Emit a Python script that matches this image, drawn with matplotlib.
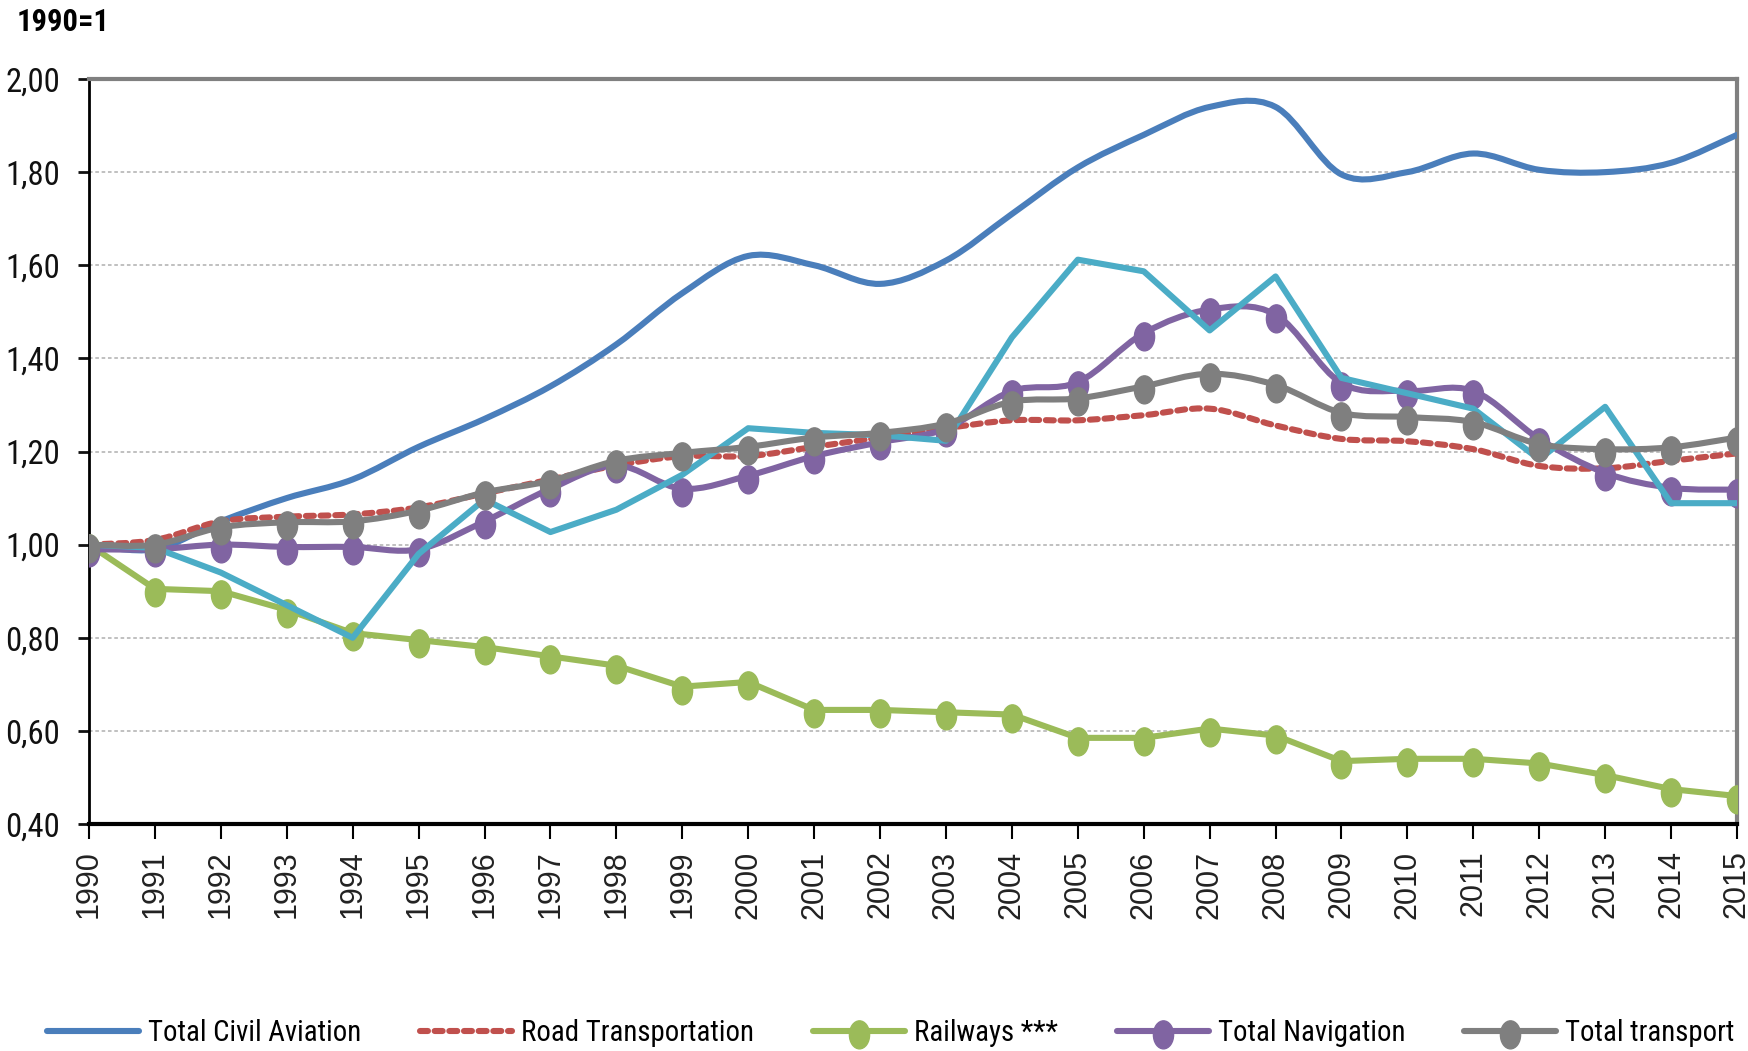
import matplotlib
matplotlib.use("Agg")
import matplotlib.pyplot as plt
import numpy as np
from matplotlib.path import Path
from matplotlib.patches import PathPatch
from matplotlib.lines import Line2D
from matplotlib.transforms import Affine2D
from matplotlib.ticker import FuncFormatter

years = list(range(1990, 2016))
aviation = [1.00, 0.99, 1.05, 1.10, 1.14, 1.21, 1.27, 1.34, 1.43, 1.54, 1.62, 1.60, 1.56, 1.61,
            1.71, 1.81, 1.88, 1.94, 1.94, 1.795, 1.80, 1.84, 1.805, 1.80, 1.82, 1.88]
road = [1.00, 1.01, 1.05, 1.06, 1.065, 1.08, 1.11, 1.14, 1.17, 1.19, 1.19, 1.21, 1.23, 1.25,
        1.267, 1.267, 1.278, 1.292, 1.256, 1.227, 1.222, 1.205, 1.169, 1.164, 1.18, 1.196]
railways = [1.00, 0.905, 0.90, 0.86, 0.81, 0.795, 0.78, 0.76, 0.74, 0.695, 0.705, 0.645, 0.645, 0.64,
            0.635, 0.585, 0.585, 0.605, 0.59, 0.535, 0.54, 0.54, 0.53, 0.505, 0.475, 0.46]
navigation = [0.99, 0.99, 1.00, 0.995, 0.995, 0.99, 1.05, 1.12, 1.17, 1.12, 1.148, 1.19, 1.22, 1.249,
              1.33, 1.349, 1.454, 1.505, 1.494, 1.347, 1.33, 1.33, 1.227, 1.154, 1.122, 1.118]
domestic_nav = [1.00, 0.993, 0.94, 0.87, 0.80, 0.98, 1.097, 1.027, 1.075, 1.15, 1.25, 1.24, 1.235, 1.223,
                1.445, 1.612, 1.587, 1.46, 1.576, 1.358, 1.325, 1.292, 1.183, 1.296, 1.089, 1.089]
total = [1.00, 1.00, 1.037, 1.048, 1.05, 1.073, 1.112, 1.137, 1.18, 1.197, 1.21, 1.23, 1.24, 1.26,
         1.307, 1.314, 1.34, 1.367, 1.343, 1.283, 1.274, 1.263, 1.216, 1.205, 1.209, 1.23]
y_ticks = [0.4, 0.6, 0.8, 1.0, 1.2, 1.4, 1.6, 1.8, 2.0]

narrow = ['Roboto Condensed', 'DejaVu Sans']
regular = ['Liberation Sans', 'DejaVu Sans']


def smooth_path(x, y):
    # Catmull-Rom through the points, as cubic Bezier pieces (Excel-style smoothed line)
    p = np.column_stack([x, y]).astype(float)
    verts = [p[0]]
    codes = [Path.MOVETO]
    n = len(p)
    for i in range(n - 1):
        p0 = p[i - 1] if i > 0 else p[i]
        p3 = p[i + 2] if i + 2 < n else p[i + 1]
        c1 = p[i] + (p[i + 1] - p0) / 6
        c2 = p[i + 1] - (p3 - p[i]) / 6
        verts += [c1, c2, p[i + 1]]
        codes += [Path.CURVE4] * 3
    return Path(verts, codes)


# tall ellipse marker sitting a bit under the point
marker_path = Path.unit_circle().transformed(Affine2D().scale(0.36, 0.5).translate(0, -0.12))

fig = plt.figure(figsize=(17.49, 10.51), dpi=100)
ax = fig.add_axes([89 / 1749, 1 - 824 / 1051, (1737 - 89) / 1749, (824 - 79) / 1051])

lw = 4.4
ms = 25
blue, red, green, purple, cyan, grey = '#4A7EBB', '#C0504D', '#9BBB59', '#8064A2', '#4BACC6', '#7F7F7F'

ax.add_patch(PathPatch(smooth_path(years, aviation), fill=False, ec=blue, lw=lw, capstyle='round', zorder=3))
ax.add_patch(PathPatch(smooth_path(years, road), fill=False, ec=red, lw=lw, ls=(0, (1.3, 1.1)),
                       capstyle='round', zorder=3))
ax.plot(years, railways, color=green, lw=lw, zorder=4)
ax.plot(years, railways, ls='none', marker=marker_path, ms=ms, mfc=green, mec=green, zorder=4)
ax.add_patch(PathPatch(smooth_path(years, navigation), fill=False, ec=purple, lw=lw, zorder=5))
ax.plot(years, navigation, ls='none', marker=marker_path, ms=ms, mfc=purple, mec=purple, zorder=5)
ax.plot(years, domestic_nav, color=cyan, lw=lw, zorder=6)
ax.add_patch(PathPatch(smooth_path(years, total), fill=False, ec=grey, lw=lw, zorder=7))
ax.plot(years, total, ls='none', marker=marker_path, ms=ms, mfc=grey, mec=grey, zorder=7)

ax.set_xlim(1990, 2015)
ax.set_ylim(0.4, 2.0)
ax.set_xticks(years)
ax.set_xticklabels([str(y) for y in years], rotation=90, fontsize=22, family=regular, color='#222222')
ax.set_yticks(y_ticks)
ax.yaxis.set_major_formatter(FuncFormatter(lambda v, _: f"{v:.2f}".replace('.', ',')))
for lab in ax.get_yticklabels():
    lab.set_family(narrow)
ax.tick_params(axis='y', direction='out', length=8, width=2, labelsize=23.5, pad=13, colors='#111111')
ax.tick_params(axis='x', direction='out', length=11, width=1.5, pad=8)

for v in y_ticks[1:-1]:
    ax.axhline(v, color='#BBBBBB', lw=1.3, ls=(0, (2, 1.5)), zorder=1)

ax.spines['left'].set_linewidth(2)
ax.spines['bottom'].set_linewidth(3)
ax.spines['top'].set_color('#808080')
ax.spines['top'].set_linewidth(3)
ax.spines['right'].set_color('#808080')
ax.spines['right'].set_linewidth(3)

fig.text(17 / 1749, 1 - 22 / 1051, '1990=1', fontsize=22, fontweight='bold', family=narrow,
         va='center', ha='left')

handles = [
    Line2D([], [], color=blue, lw=lw, solid_capstyle='round'),
    Line2D([], [], color=red, lw=lw, ls=(0, (1.3, 1.1)), dash_capstyle='round'),
    Line2D([], [], color=green, lw=lw, marker=marker_path, ms=ms, solid_capstyle='round'),
    Line2D([], [], color=purple, lw=lw, marker=marker_path, ms=ms, solid_capstyle='round'),
    Line2D([], [], color=grey, lw=lw, marker=marker_path, ms=ms, solid_capstyle='round'),
]
labels = ['Total Civil Aviation', 'Road Transportation', 'Railways ***', 'Total Navigation', 'Total transport']
fig.legend(handles, labels, loc='center left', bbox_to_anchor=(47 / 1749, 1 - 1033 / 1051), ncol=5,
           frameon=False, prop={'family': narrow, 'size': 20.7}, handlelength=3.2, handletextpad=0.31,
           columnspacing=2.05, borderpad=0, borderaxespad=0, numpoints=1)

fig.savefig('out.png', dpi=100)
